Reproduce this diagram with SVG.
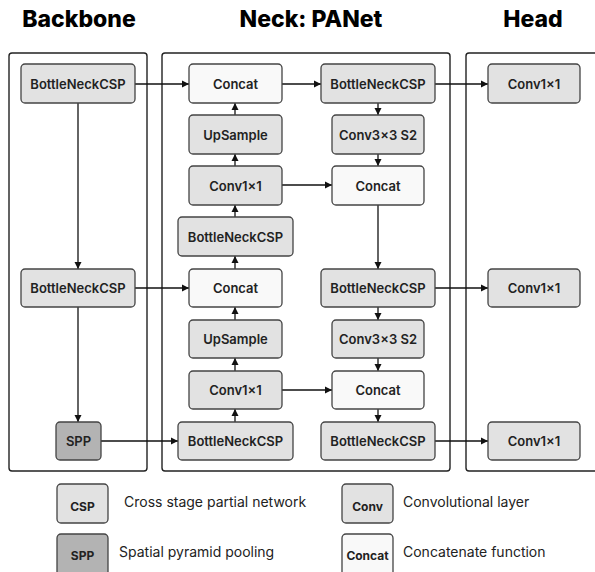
<svg xmlns="http://www.w3.org/2000/svg" width="595" height="572" viewBox="0 0 595 572">
<defs>
<marker id="ah" markerUnits="userSpaceOnUse" markerWidth="8" markerHeight="8" viewBox="0 0 8 8" refX="7" refY="4" orient="auto">
<path d="M0,0.5 L7,4 L0,7.5 Z" fill="#111"/>
</marker>
<style>
.title{font-family:Inter,"Liberation Sans",sans-serif;font-weight:800;font-size:23px;fill:#000;text-anchor:middle}
.cont{fill:none;stroke:#222;stroke-width:1.4}
.n rect{stroke:#444;stroke-width:1.3}
.csp{fill:#e2e2e2}
.cat{fill:#f9f9f9}
.spp{fill:#b3b3b3}
.n text{font-family:Inter,"Liberation Sans",sans-serif;font-weight:600;font-size:13px;fill:#222;text-anchor:middle;dominant-baseline:central}
.lg .n text.k{font-family:Inter,"Liberation Sans",sans-serif;font-weight:700;font-size:12px;fill:#222;text-anchor:middle;dominant-baseline:auto}
.lg text.d{font-family:Inter,"Liberation Sans",sans-serif;font-weight:400;font-size:14px;fill:#222}
.e{stroke:#111;stroke-width:1.3;fill:none;marker-end:url(#ah)}
</style>
</defs>
<rect width="595" height="572" fill="#fff"/>
<g id="titles">
<text class="title" x="79" y="27">Backbone</text>
<text class="title" x="311" y="27">Neck: PANet</text>
<text class="title" x="533" y="27">Head</text>
</g>
<g id="containers">
<rect class="cont" x="9" y="53" width="138" height="418" rx="3"/>
<rect class="cont" x="162" y="53" width="288" height="418" rx="3"/>
<rect class="cont" x="466" y="53" width="140" height="418" rx="3"/>
</g>
<g id="connectors">
<line class="e" x1="135" y1="84" x2="189" y2="84"/>
<line class="e" x1="78" y1="103" x2="78" y2="269"/>
<line class="e" x1="135" y1="288" x2="189" y2="288"/>
<line class="e" x1="78" y1="307" x2="78" y2="422"/>
<line class="e" x1="101" y1="441" x2="178" y2="441"/>
<line class="e" x1="235" y1="422" x2="235" y2="409"/>
<line class="e" x1="235" y1="371" x2="235" y2="358"/>
<line class="e" x1="235" y1="320" x2="235" y2="307"/>
<line class="e" x1="235" y1="269" x2="235" y2="256"/>
<line class="e" x1="235" y1="217" x2="235" y2="205"/>
<line class="e" x1="235" y1="166" x2="235" y2="154"/>
<line class="e" x1="235" y1="115" x2="235" y2="103"/>
<line class="e" x1="282" y1="84" x2="321" y2="84"/>
<line class="e" x1="378" y1="103" x2="378" y2="115"/>
<line class="e" x1="378" y1="154" x2="378" y2="166"/>
<line class="e" x1="378" y1="205" x2="378" y2="269"/>
<line class="e" x1="378" y1="307" x2="378" y2="320"/>
<line class="e" x1="378" y1="358" x2="378" y2="371"/>
<line class="e" x1="378" y1="409" x2="378" y2="422"/>
<line class="e" x1="282" y1="185" x2="332" y2="185"/>
<line class="e" x1="282" y1="390" x2="332" y2="390"/>
<line class="e" x1="435" y1="84" x2="488" y2="84"/>
<line class="e" x1="435" y1="288" x2="488" y2="288"/>
<line class="e" x1="435" y1="441" x2="488" y2="441"/>
</g>
<g id="bb_csp1" class="n"><rect class="csp" x="21" y="64" width="114" height="39" rx="4"/><text x="78" y="84">BottleNeckCSP</text></g>
<g id="bb_csp2" class="n"><rect class="csp" x="21" y="269" width="114" height="38" rx="4"/><text x="78" y="288">BottleNeckCSP</text></g>
<g id="bb_spp" class="n"><rect class="spp" x="56" y="422" width="45" height="38" rx="4"/><text x="78.5" y="441">SPP</text></g>
<g id="nk_concat1" class="n"><rect class="cat" x="189" y="64" width="93" height="39" rx="4"/><text x="235.5" y="84">Concat</text></g>
<g id="nk_up1" class="n"><rect class="csp" x="189" y="115" width="93" height="39" rx="4"/><text x="235.5" y="135">UpSample</text></g>
<g id="nk_conv1" class="n"><rect class="csp" x="189" y="166" width="93" height="39" rx="4"/><text x="235.5" y="186">Conv1×1</text></g>
<g id="nk_csp_mid" class="n"><rect class="csp" x="178" y="217" width="115" height="39" rx="4"/><text x="235.5" y="237">BottleNeckCSP</text></g>
<g id="nk_concat2" class="n"><rect class="cat" x="189" y="269" width="93" height="38" rx="4"/><text x="235.5" y="288">Concat</text></g>
<g id="nk_up2" class="n"><rect class="csp" x="189" y="320" width="93" height="38" rx="4"/><text x="235.5" y="339">UpSample</text></g>
<g id="nk_conv2" class="n"><rect class="csp" x="189" y="371" width="93" height="38" rx="4"/><text x="235.5" y="390">Conv1×1</text></g>
<g id="nk_csp_bot" class="n"><rect class="csp" x="178" y="422" width="115" height="38" rx="4"/><text x="235.5" y="441">BottleNeckCSP</text></g>
<g id="nk_rcsp1" class="n"><rect class="csp" x="321" y="64" width="114" height="39" rx="4"/><text x="378" y="84">BottleNeckCSP</text></g>
<g id="nk_rconv1" class="n"><rect class="csp" x="332" y="115" width="92" height="39" rx="4"/><text x="378" y="135">Conv3×3 S2</text></g>
<g id="nk_rconcat1" class="n"><rect class="cat" x="332" y="166" width="92" height="39" rx="4"/><text x="378" y="186">Concat</text></g>
<g id="nk_rcsp2" class="n"><rect class="csp" x="321" y="269" width="114" height="38" rx="4"/><text x="378" y="288">BottleNeckCSP</text></g>
<g id="nk_rconv2" class="n"><rect class="csp" x="332" y="320" width="92" height="38" rx="4"/><text x="378" y="339">Conv3×3 S2</text></g>
<g id="nk_rconcat2" class="n"><rect class="cat" x="332" y="371" width="92" height="38" rx="4"/><text x="378" y="390">Concat</text></g>
<g id="nk_rcsp3" class="n"><rect class="csp" x="321" y="422" width="114" height="38" rx="4"/><text x="378" y="441">BottleNeckCSP</text></g>
<g id="hd_conv1" class="n"><rect class="csp" x="488" y="64" width="92" height="39" rx="4"/><text x="534" y="84">Conv1×1</text></g>
<g id="hd_conv2" class="n"><rect class="csp" x="488" y="269" width="92" height="38" rx="4"/><text x="534" y="288">Conv1×1</text></g>
<g id="hd_conv3" class="n"><rect class="csp" x="488" y="422" width="92" height="38" rx="4"/><text x="534" y="441">Conv1×1</text></g>
<g id="legend" class="lg">
<g id="lg_csp" class="n"><rect class="csp" x="57" y="484" width="51" height="39" rx="4"/><text class="k" x="82.5" y="510.5">CSP</text></g>
<text class="d" x="124" y="507">Cross stage partial network</text>
<g id="lg_spp" class="n"><rect class="spp" x="57" y="534" width="51" height="42" rx="4"/><text class="k" x="82.5" y="560">SPP</text></g>
<text class="d" x="119" y="557">Spatial pyramid pooling</text>
<g id="lg_conv" class="n"><rect class="csp" x="342" y="484" width="51" height="39" rx="4"/><text class="k" x="367.5" y="510.5">Conv</text></g>
<text class="d" x="403" y="507">Convolutional layer</text>
<g id="lg_concat" class="n"><rect class="cat" x="342" y="534" width="51" height="42" rx="4"/><text class="k" x="367.5" y="560">Concat</text></g>
<text class="d" x="403" y="557">Concatenate function</text>
</g>
</svg>
